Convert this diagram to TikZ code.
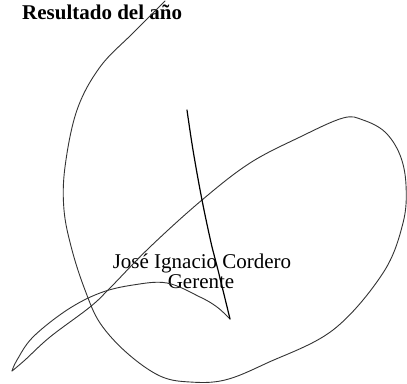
\documentclass[tikz,border=0pt]{standalone}
\usepackage{fontspec}
\setmainfont{Liberation Serif}
\tikzset{
  firma/.style={line width=0.9pt, black!80, line cap=round, line join=round},
  texto/.style={inner sep=0pt, anchor=base, font=\fontsize{21}{20}\selectfont},
}
\begin{document}
\begin{tikzpicture}[x=1pt,y=-1pt]
\useasboundingbox (0,0) rectangle (407,383);
\node[texto, anchor=base west, font=\fontsize{21}{20}\selectfont\bfseries] (titulo) at (22,19) {Resultado del año};
\node[texto] (nombre) at (202,268) {José Ignacio Cordero};
\node[texto] (cargo) at (201,288) {Gerente};
% firma
\draw[firma] plot[smooth, tension=0.6] coordinates {
  (165,1) (133,33) (100,67) (77,110) (65,167) (64,210) (72,250) (85,290)
  (100,323) (127,353) (160,376) (190,382) (225,380) (267,363) (333,330)
  (383,273) (403,223) (406,185) (400,155) (385,132) (363,120) (343,118)
  (300,137) (250,163) (202,200) (150,247) (110,288) (90,307) (50,337)
  (25,360) (12,371)};
\draw[firma] plot[smooth, tension=0.6] coordinates {
  (12,371) (17,360) (33,337) (67,310) (100,293) (133,285) (167,283)
  (200,297) (217,307) (230,319)};
\draw[firma, line width=1.2pt, black] plot[smooth, tension=0.6] coordinates {
  (230,319) (218,270) (212,247) (202,200) (193,150) (187,110)};
\end{tikzpicture}
\end{document}
